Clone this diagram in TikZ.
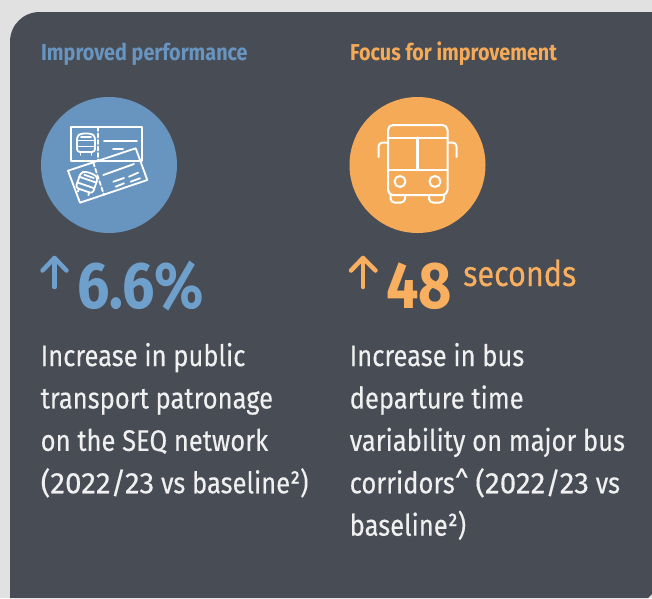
\documentclass[tikz,border=0pt]{standalone}
\usepackage{fontspec}
\setmainfont{Fira Sans}[FakeStretch=0.86,FakeBold=0.25]
\newfontfamily\fhead{Fira Sans}[FakeStretch=0.86,UprightFont=* Bold,BoldFont=* Bold]
\newfontfamily\fbold{Fira Sans}[FakeStretch=0.87,UprightFont=* Bold,BoldFont=* Bold]
\newfontfamily\fdig{Fira Sans}[FakeStretch=1.0,FakeBold=0.25]
\newcommand{\widedig}[1]{{\fdig #1}}
\definecolor{bgc}{HTML}{E1E1E1}
\definecolor{panelc}{HTML}{484C55}
\definecolor{bluec}{HTML}{6895BF}
\definecolor{bluet}{HTML}{6F9FCB}
\definecolor{orangec}{HTML}{F5AA58}
\definecolor{oranget}{HTML}{F8AF60}
\definecolor{bodyc}{HTML}{F0F0F0}
\tikzset{
  x=1pt,y=-1pt,
  head/.style={anchor=base west,inner sep=0pt,font=\fontsize{23}{27}\fhead},
  bodytext/.style={anchor=north west,inner sep=0pt,align=left,text=bodyc,font=\fontsize{29.7}{42.4}\selectfont},
  big/.style={anchor=base west,inner sep=0pt,font=\fontsize{66}{68}\fbold},
  icon/.style={draw=white,line width=1.8pt,line join=round,line cap=round},
  uparrow/.style={line width=4.5pt,line cap=round,line join=round},
  traincar/.pic={
    \draw[rounded corners=3pt] (-9,8) -- (-9,-8) -- (-5,-10.5) -- (5,-10.5) -- (9,-8) -- (9,8) -- cycle;
    \draw (-9,-3.5) -- (9,-3.5);
    \draw (-9,2.5) -- (9,2.5);
    \draw (-5,-7) -- (5,-7);
    \draw (-5.5,8) -- (-5.5,11);
    \draw (5.5,8) -- (5.5,11);
  },
}
\begin{document}
\begin{tikzpicture}
\useasboundingbox (0,0) rectangle (652,598);
\fill[bgc] (0,0) rectangle (652,598);
\fill[panelc] (10,598) -- (10,42) .. controls (10,25) and (23,12) .. (40,12) -- (652,12) -- (652,594) -- (648,598) -- cycle;
\node[head,text=bluec] (h1) at (41,60) {Improved performance};
\node[head,text=orangec] (h2) at (350,60) {Focus for improvement};
\node[circle,fill=bluec,minimum size=136pt,inner sep=0pt] (c1) at (109,165) {};
\node[circle,fill=orangec,minimum size=136pt,inner sep=0pt] (c2) at (417.5,165) {};
% ticket icon
\begin{scope}[icon]
\draw (71.3,126.7) rectangle (142,160.7);
\draw[dash pattern=on 4pt off 2.5pt] (98.3,127) -- (98.3,160.7);
\draw (104,141.3) -- (137,141.3);
\draw (113,148.7) -- (123,148.7);
\pic[y=-1pt] at (86,144) {traincar};
\draw (68,170.7) -- (135.7,148.3) -- (147.3,180) -- (80,202.7) -- cycle;
\draw[dash pattern=on 4pt off 2.5pt] (93.3,162.7) -- (104,195);
\draw (103.3,175) -- (134,164);
\draw (113.3,181.7) -- (124,178);
\draw (129,176.7) -- (138,172.7);
\draw (115.7,186.7) -- (124,183.3);
\draw (130.7,181.7) -- (140,178.3);
\pic[rotate=-19] at (86.7,183) {traincar};
\end{scope}
% bus icon
\begin{scope}[icon,line width=2pt]
\draw[rounded corners=5pt] (388,195) -- (388,125) -- (447.5,125) -- (447.5,195) -- cycle;
\draw (388,137.5) -- (447.5,137.5);
\draw (388,170) -- (447.5,170);
\draw[line width=2.5pt] (417.5,137.5) -- (417.5,170);
\draw (400,181.5) circle[radius=5.5];
\draw (435,181.5) circle[radius=5.5];
\draw[rounded corners=4pt] (390.5,195) -- (390.5,202.5) -- (405,202.5) -- (405,195);
\draw[rounded corners=4pt] (429,195) -- (429,202.5) -- (444,202.5) -- (444,195);
\draw[rounded corners=4pt] (378.5,157) -- (378.5,142.5) -- (387,142.5);
\draw[rounded corners=4pt] (456.5,157) -- (456.5,142.5) -- (448,142.5);
\end{scope}
% arrows
\coordinate (a1b) at (54.5,287);
\coordinate (a1t) at (54.5,258);
\draw[uparrow,bluet] (a1b) -- (a1t);
\draw[uparrow,bluet] (42.5,270.5) -- (a1t) -- (66.5,270.5);
\coordinate (a2b) at (363,287);
\coordinate (a2t) at (363,258);
\draw[uparrow,oranget] (a2b) -- (a2t);
\draw[uparrow,oranget] (351,270.5) -- (a2t) -- (375.5,270.5);
\node[big,text=bluet] (v1) at (77,308) {6.6\%};
\node[big,text=oranget] (v2) at (386,308) {48};
\node[anchor=base west,inner sep=0pt,text=oranget,font=\fontsize{35.5}{38}\selectfont] (u2) at (463,286) {seconds};
\node[bodytext] (b1) at (40.5,342.7) {Increase in public\\transport patronage\\on the SEQ network\\\widedig{(2022/23} vs baseline²)};
\node[bodytext] (b2) at (349.5,342.7) {Increase in bus\\departure time\\variability on major bus\\corridors\^{} \widedig{(2022/23} vs\\baseline²)};
\end{tikzpicture}
\end{document}
